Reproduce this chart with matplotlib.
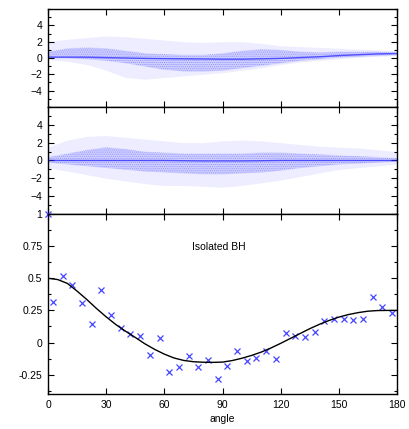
import numpy as np
import matplotlib
matplotlib.use("Agg")
import matplotlib.pyplot as plt
from matplotlib.ticker import MultipleLocator

plt.rcParams["font.family"] = ["Liberation Sans", "DejaVu Sans"]
plt.rcParams["font.size"] = 7.5
plt.rcParams["hatch.linewidth"] = 0.5

# cloud envelopes, read every 10 degrees
cloud_angle = [0, 10, 20, 30, 40, 50, 60, 70, 80, 90, 100, 110, 120, 130, 140, 150, 160, 170, 180]

top_center = [0.1, 0.1, 0.1, 0.05, 0.0, -0.05, -0.08, -0.1, -0.12, -0.15, -0.15, -0.1, -0.05, 0.05, 0.15, 0.3, 0.4, 0.5, 0.55]
top_in_hi = [0.8, 1.2, 1.3, 1.2, 0.9, 0.6, 0.5, 0.4, 0.4, 0.6, 0.9, 1.1, 1.0, 0.8, 0.7, 0.8, 0.8, 0.8, 0.7]
top_in_lo = [0.0, 0.0, -0.1, -0.3, -0.6, -1.0, -1.4, -1.6, -1.6, -1.5, -1.2, -0.9, -0.6, -0.3, -0.1, 0.1, 0.2, 0.3, 0.4]
top_out_hi = [2.0, 2.3, 2.5, 2.7, 2.6, 2.4, 2.2, 2.0, 1.9, 2.0, 2.0, 1.8, 1.5, 1.4, 1.3, 1.2, 1.1, 1.0, 0.9]
top_out_lo = [-0.2, -0.4, -0.8, -1.5, -2.4, -2.6, -2.4, -2.2, -2.0, -1.8, -1.5, -1.2, -0.8, -0.5, -0.3, -0.1, 0.1, 0.2, 0.3]

mid_center = [0.0, 0.0, 0.0, 0.0, 0.0, 0.0, 0.0, -0.03, -0.05, -0.05, -0.05, -0.03, 0.0, 0.0, 0.0, 0.0, 0.0, 0.0, 0.0]
mid_in_hi = [0.4, 0.8, 1.2, 1.5, 1.3, 1.0, 0.9, 0.8, 0.8, 0.8, 0.8, 0.9, 0.9, 0.8, 0.7, 0.6, 0.5, 0.4, 0.3]
mid_in_lo = [-0.2, -0.4, -0.6, -0.8, -1.0, -1.2, -1.3, -1.4, -1.5, -1.5, -1.4, -1.3, -1.1, -0.8, -0.6, -0.4, -0.3, -0.2, -0.1]
mid_out_hi = [1.5, 2.3, 2.7, 2.8, 2.6, 2.4, 2.2, 2.0, 2.0, 2.2, 2.3, 2.2, 2.0, 1.8, 1.6, 1.5, 1.4, 1.2, 1.0]
mid_out_lo = [-0.8, -1.2, -1.6, -2.0, -2.3, -2.6, -2.8, -2.8, -2.9, -3.0, -2.8, -2.5, -2.2, -1.8, -1.4, -1.0, -0.8, -0.6, -0.4]

# bottom panel: measured points
pt_angle = [0, 2.5, 7.5, 12.5, 17.5, 22.5, 27.5, 32.5, 37.5, 42.5, 47.5, 52.5, 57.5, 62.5, 67.5,
            72.5, 77.5, 82.5, 87.5, 92.5, 97.5, 102.5, 107.5, 112.5, 117.5, 122.5, 127.5,
            132.5, 137.5, 142.5, 147.5, 152.5, 157.5, 162.5, 167.5, 172.5, 177.5]
pt_value = [1.0, 0.315, 0.52, 0.445, 0.307, 0.143, 0.408, 0.213, 0.111, 0.067, 0.049, -0.094, 0.034,
            -0.232, -0.188, -0.102, -0.188, -0.133, -0.281, -0.185, -0.063, -0.146, -0.123,
            -0.063, -0.13, 0.073, 0.049, 0.047, 0.083, 0.164, 0.182, 0.182, 0.177, 0.184,
            0.352, 0.276, 0.227]

# fitted curve, read every 5 degrees
fit_angle = [0, 5, 10, 15, 20, 25, 30, 35, 40, 45, 50, 55, 60, 65, 70, 75, 80, 85, 90,
             95, 100, 105, 110, 115, 120, 125, 130, 135, 140, 145, 150, 155, 160, 165, 170, 175, 180]
fit_value = [0.5, 0.49, 0.46, 0.40, 0.335, 0.265, 0.20, 0.14, 0.088, 0.04, -0.01, -0.053, -0.09,
             -0.12, -0.139, -0.149, -0.153, -0.154, -0.152, -0.14, -0.122, -0.1, -0.074, -0.042,
             -0.006, 0.032, 0.07, 0.108, 0.142, 0.172, 0.198, 0.218, 0.233, 0.244, 0.249, 0.25, 0.25]

fig = plt.figure(figsize=(4.09, 4.29), dpi=100)
left, width = 0.1174, 0.8533
ax1 = fig.add_axes([left, 0.7506, width, 0.2284])
ax2 = fig.add_axes([left, 0.5012, width, 0.2494])
ax3 = fig.add_axes([left, 0.0816, width, 0.4196])


def cloud(ax, center, in_hi, in_lo, out_hi, out_lo):
    # light haze for the sparse points, denser haze for the core
    ax.fill_between(cloud_angle, out_lo, out_hi, color="#0000ff", alpha=0.07, linewidth=0)
    ax.fill_between(cloud_angle, in_lo, in_hi, color="#0000ff", alpha=0.12, linewidth=0)
    ax.fill_between(cloud_angle, in_lo, in_hi, facecolor="none", edgecolor="#9090ff",
                    hatch="........", linewidth=0)
    ax.plot(cloud_angle, center, color="#2020ff", lw=1.0, alpha=0.7)


cloud(ax1, top_center, top_in_hi, top_in_lo, top_out_hi, top_out_lo)
cloud(ax2, mid_center, mid_in_hi, mid_in_lo, mid_out_hi, mid_out_lo)

ax3.plot(pt_angle, pt_value, "x", color="#4646ff", ms=4.5, mew=0.9, clip_on=False)
ax3.plot(fit_angle, fit_value, color="black", lw=1.0)
ax3.text(88, 0.747, "Isolated BH", ha="center", va="center", fontsize=7.5)

for ax in (ax1, ax2):
    ax.set_ylim(-6, 6)
    ax.set_yticks([-4, -2, 0, 2, 4])
    ax.yaxis.set_minor_locator(MultipleLocator(1))
    ax.tick_params(labelbottom=False)

ax3.set_ylim(-0.4, 1.0)
ax3.set_yticks([-0.25, 0, 0.25, 0.5, 0.75, 1])
ax3.set_yticklabels(["-0.25", "0", "0.25", "0.5", "0.75", "1"])
ax3.yaxis.set_minor_locator(MultipleLocator(0.125))
ax3.set_xlabel("angle", labelpad=3)

for ax in (ax1, ax2, ax3):
    ax.set_xlim(0, 180)
    ax.set_xticks(range(0, 181, 30))
    ax.tick_params(which="both", direction="in", top=True, right=True, width=0.8, pad=4)
    ax.tick_params(which="major", length=4)
    ax.tick_params(which="minor", length=2)
    for s in ax.spines.values():
        s.set_linewidth(1.0)

fig.savefig("out.png", dpi=100)
